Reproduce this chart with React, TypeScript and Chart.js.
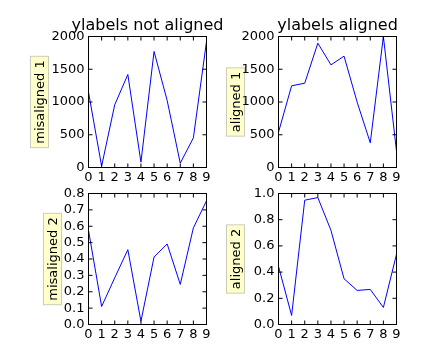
import React, { useEffect, useRef } from "react";
import { Chart, registerables } from "chart.js";

Chart.register(...registerables);

// ---------- data ----------
const xLabels = ["0", "1", "2", "3", "4", "5", "6", "7", "8", "9"];

const misaligned1 = [1150, 20, 957, 1420, 81, 1771, 1023, 66, 453, 1924];
const aligned1 = [539, 1247, 1287, 1898, 1567, 1700, 997, 377, 2000, 249];
const misaligned2 = [0.575, 0.11, 0.285, 0.457, 0.02, 0.412, 0.492, 0.245, 0.59, 0.755];
const aligned2 = [0.444, 0.069, 0.949, 0.969, 0.719, 0.349, 0.26, 0.268, 0.13, 0.536];

const yTicksTop = [0, 500, 1000, 1500, 2000];
const yTicksBottomLeft = [0, 0.1, 0.2, 0.3, 0.4, 0.5, 0.6, 0.7, 0.8];
const yTicksBottomRight = [0, 0.2, 0.4, 0.6, 0.8, 1.0];

const titles = ["ylabels not aligned", "ylabels aligned"];
const ylabels = ["misaligned 1", "aligned 1", "misaligned 2", "aligned 2"];

// ---------- layout ----------
const W = 440;
const H = 360;
const YW = 60;
const XH = 30;
const FONT = "DejaVu Sans";

type Panel = {
  values: number[];
  yTicks: number[];
  decimals: number;
  title?: string;
  ylabel: string;
  labelX: number;
  area: { left: number; top: number; right: number; bottom: number };
};

const panels: Panel[] = [
  {
    values: misaligned1,
    yTicks: yTicksTop,
    decimals: 0,
    title: titles[0],
    ylabel: ylabels[0],
    labelX: 39.5,
    area: { left: 88.5, top: 36.5, right: 206.5, bottom: 167.5 },
  },
  {
    values: aligned1,
    yTicks: yTicksTop,
    decimals: 0,
    title: titles[1],
    ylabel: ylabels[1],
    labelX: 235.5,
    area: { left: 278.5, top: 36.5, right: 396.5, bottom: 167.5 },
  },
  {
    values: misaligned2,
    yTicks: yTicksBottomLeft,
    decimals: 1,
    ylabel: ylabels[2],
    labelX: 52.5,
    area: { left: 88.5, top: 193.5, right: 206.5, bottom: 324.5 },
  },
  {
    values: aligned2,
    yTicks: yTicksBottomRight,
    decimals: 1,
    ylabel: ylabels[3],
    labelX: 235.5,
    area: { left: 278.5, top: 193.5, right: 396.5, bottom: 324.5 },
  },
];

function decorPlugin(p: Panel) {
  return {
    id: "decor",
    afterDraw(chart: any) {
      const ctx = chart.ctx as CanvasRenderingContext2D;
      const a = chart.chartArea;
      const xs = chart.scales.x;
      const ys = chart.scales.y;
      const L = 4;
      ctx.save();
      ctx.strokeStyle = "#000";
      ctx.lineWidth = 1;
      ctx.beginPath();
      xs.ticks.forEach((_t: any, i: number) => {
        const px = xs.getPixelForTick(i);
        ctx.moveTo(px, a.bottom);
        ctx.lineTo(px, a.bottom - L);
        ctx.moveTo(px, a.top);
        ctx.lineTo(px, a.top + L);
      });
      ys.ticks.forEach((_t: any, i: number) => {
        const py = ys.getPixelForTick(i);
        ctx.moveTo(a.left, py);
        ctx.lineTo(a.left + L, py);
        ctx.moveTo(a.right, py);
        ctx.lineTo(a.right - L, py);
      });
      ctx.stroke();
      ctx.strokeRect(a.left, a.top, a.right - a.left, a.bottom - a.top);

      if (p.title) {
        ctx.font = `16px "${FONT}"`;
        ctx.fillStyle = "#000";
        ctx.textAlign = "center";
        ctx.textBaseline = "alphabetic";
        ctx.fillText(p.title, (a.left + a.right) / 2, a.top - 6.5);
      }

      ctx.font = `13px "${FONT}"`;
      const tw = ctx.measureText(p.ylabel).width;
      const cy = (a.top + a.bottom) / 2;
      ctx.translate(p.labelX, cy);
      ctx.rotate(-Math.PI / 2);
      const bw = tw + 8;
      const bh = 18;
      ctx.fillStyle = "rgba(255,255,0,0.2)";
      ctx.fillRect(-bw / 2, -bh / 2, bw, bh);
      ctx.strokeStyle = "rgba(0,0,0,0.2)";
      ctx.strokeRect(-bw / 2, -bh / 2, bw, bh);
      ctx.fillStyle = "#000";
      ctx.textAlign = "center";
      ctx.textBaseline = "middle";
      ctx.fillText(p.ylabel, 0, 1);
      ctx.restore();
    },
  };
}

function zeroPad(s: any) {
  s.paddingLeft = 0;
  s.paddingRight = 0;
  s.paddingTop = 0;
  s.paddingBottom = 0;
}

function PanelChart({ p }: { p: Panel }) {
  const ref = useRef<HTMLCanvasElement | null>(null);
  useEffect(() => {
    if (!ref.current) return;
    const tickFont = { family: FONT, size: 13 };
    const chart = new Chart(ref.current, {
      type: "line",
      data: {
        labels: xLabels,
        datasets: [
          {
            data: p.values,
            borderColor: "#0000ff",
            borderWidth: 1,
            pointRadius: 0,
            fill: false,
            tension: 0,
          },
        ],
      },
      options: {
        animation: false,
        responsive: false,
        devicePixelRatio: 1,
        events: [],
        layout: {
          padding: {
            left: p.area.left - YW,
            right: W - p.area.right,
            top: p.area.top,
            bottom: H - p.area.bottom - XH,
          },
        },
        plugins: {
          legend: { display: false },
          tooltip: { enabled: false },
          title: { display: false },
        },
        scales: {
          x: {
            type: "category",
            offset: false,
            grid: { display: false, drawTicks: false },
            border: { display: false },
            ticks: {
              autoSkip: false,
              maxRotation: 0,
              padding: 2,
              color: "#000",
              font: tickFont,
            },
            afterFit: (s: any) => {
              s.height = XH;
              zeroPad(s);
            },
          },
          y: {
            type: "linear",
            min: p.yTicks[0],
            max: p.yTicks[p.yTicks.length - 1],
            grid: { display: false, drawTicks: false },
            border: { display: false },
            ticks: {
              autoSkip: false,
              padding: 4,
              color: "#000",
              font: tickFont,
              callback: (v: any) => Number(v).toFixed(p.decimals),
            },
            afterBuildTicks: (s: any) => {
              s.ticks = p.yTicks.map((v) => ({ value: v }));
            },
            afterFit: (s: any) => {
              s.width = YW;
              zeroPad(s);
            },
          },
        },
      } as any,
      plugins: [decorPlugin(p)],
    });
    return () => chart.destroy();
  }, [p]);
  return (
    <canvas
      ref={ref}
      width={W}
      height={H}
      style={{ position: "absolute", left: 0, top: 0, width: W, height: H }}
    />
  );
}

export default function App() {
  return (
    <div
      style={{
        position: "absolute",
        left: 0,
        top: 0,
        width: W,
        height: H,
        background: "#fff",
        overflow: "hidden",
      }}
    >
      {panels.map((p, i) => (
        <PanelChart key={i} p={p} />
      ))}
    </div>
  );
}
